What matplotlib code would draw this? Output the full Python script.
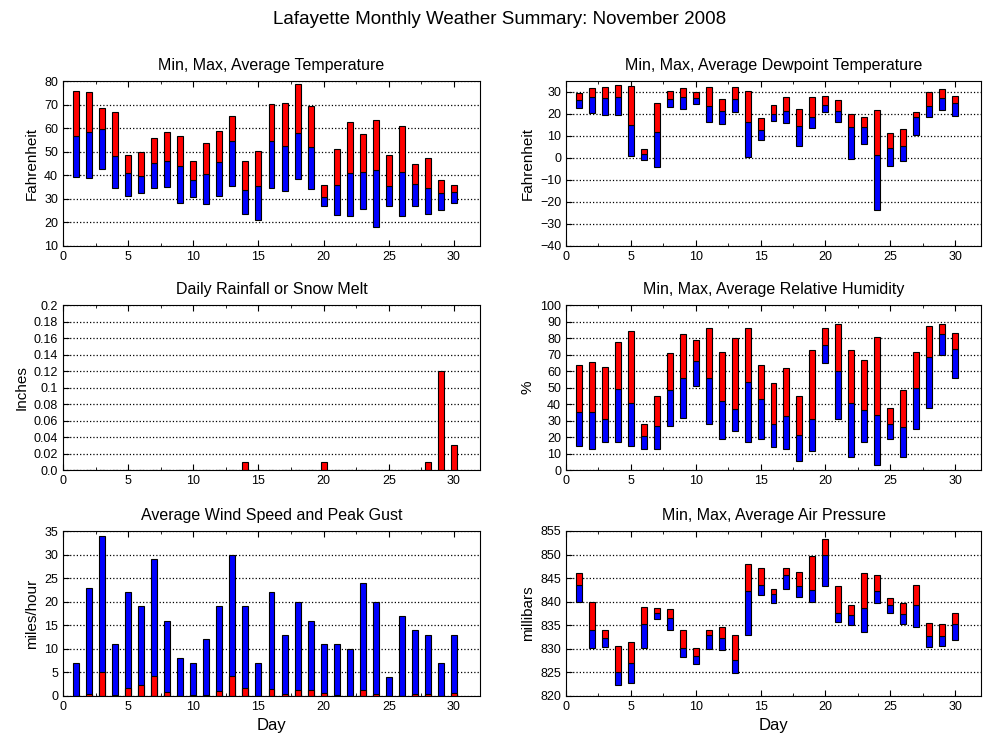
import matplotlib
matplotlib.use("Agg")
import matplotlib.pyplot as plt
import numpy as np
from matplotlib.ticker import MultipleLocator

plt.rcParams['font.family'] = ['Liberation Sans', 'DejaVu Sans']

days = np.arange(1, 31)

# temperature (F)
temp_max = [75.8, 75.3, 68.5, 67.0, 48.7, 50.0, 56.0, 58.5, 56.7, 46.2,
            53.8, 58.9, 65.3, 46.2, 50.4, 70.4, 70.8, 78.9, 69.5, 36.0,
            51.3, 62.7, 57.6, 63.6, 48.7, 61.0, 44.9, 47.5, 38.1, 36.0]
temp_avg = [56.7, 58.5, 59.8, 48.3, 41.0, 39.7, 45.2, 46.2, 44.1, 38.1,
            40.5, 45.8, 54.7, 33.9, 35.6, 54.7, 52.6, 58.1, 52.1, 30.9,
            36.0, 41.1, 41.5, 42.4, 35.6, 41.5, 36.4, 34.7, 32.6, 33.0]
temp_min = [39.4, 39.0, 42.8, 34.5, 31.3, 32.6, 34.7, 35.2, 28.4, 30.9,
            28.0, 31.3, 35.4, 23.7, 21.2, 34.7, 33.5, 38.6, 34.3, 27.1,
            23.3, 22.9, 25.8, 18.2, 27.1, 22.9, 27.1, 23.7, 25.4, 28.4]

# dewpoint (F)
dew_max = [29.5, 31.8, 32.3, 33.2, 32.7, 4.1, 25.0, 30.5, 31.8, 30.0,
           32.3, 26.8, 32.3, 30.5, 18.2, 24.1, 27.7, 22.3, 27.7, 28.2,
           26.4, 20.0, 18.6, 21.8, 11.4, 13.2, 20.9, 30.0, 31.4, 28.2]
dew_avg = [26.4, 27.7, 27.3, 27.7, 15.0, 1.8, 11.8, 26.8, 27.7, 27.3,
           23.6, 21.4, 26.8, 16.4, 12.7, 20.0, 21.4, 14.5, 18.6, 24.1,
           21.4, 14.1, 14.1, 1.4, 4.5, 5.5, 18.6, 23.6, 27.3, 25.0]
dew_min = [22.7, 20.5, 19.5, 19.5, 0.9, -0.9, -4.1, 23.2, 22.3, 24.5,
           16.4, 15.5, 20.9, 0.5, 8.2, 16.8, 15.9, 5.5, 13.6, 20.9,
           16.4, -0.5, 6.4, -23.6, -3.6, -1.4, 10.5, 18.6, 21.8, 19.1]

# rainfall (inches)
rain = [0, 0, 0, 0, 0, 0, 0, 0, 0, 0, 0, 0, 0, 0.01, 0, 0, 0, 0, 0, 0.01,
        0, 0, 0, 0, 0, 0, 0, 0.01, 0.12, 0.03]

# relative humidity (%)
rh_max = [63.9, 65.7, 62.7, 77.3, 84.0, 28.0, 45.0, 71.2, 82.2, 79.1,
          85.8, 71.8, 80.3, 85.8, 63.9, 52.9, 62.0, 45.0, 73.0, 85.8,
          88.2, 73.0, 66.9, 80.9, 37.7, 48.7, 71.8, 87.0, 88.8, 82.8]
rh_avg = [35.3, 35.3, 31.0, 49.3, 40.8, 20.7, 26.8, 48.7, 56.0, 66.3,
          56.0, 42.0, 37.1, 53.5, 43.2, 28.0, 32.9, 21.3, 31.0, 76.0,
          60.2, 40.8, 36.5, 33.5, 28.0, 26.2, 49.9, 68.2, 82.2, 73.6]
rh_min = [14.6, 12.8, 17.0, 17.0, 14.6, 12.8, 12.8, 26.8, 31.6, 51.1,
          28.0, 18.9, 23.7, 17.0, 18.9, 14.0, 12.8, 5.5, 11.6, 65.1,
          31.0, 7.9, 17.0, 3.0, 18.9, 7.9, 24.9, 37.7, 70.0, 56.0]

# wind (mph)
wind_gust = [7, 23, 34, 11, 22, 19, 29, 16, 8, 7, 12, 19, 30, 19, 7,
             22, 13, 20, 16, 11, 11, 10, 24, 20, 4, 17, 14, 13, 7, 13]
wind_avg = [0.1, 0.5, 5.0, 0.3, 1.8, 2.4, 4.2, 0.8, 0.1, 0.2, 0.3, 1.0, 4.2, 1.6, 0.1,
            1.4, 0.5, 1.2, 1.2, 0.7, 0.3, 0.1, 1.2, 0.5, 0.0, 0.1, 0.5, 0.5, 0.1, 0.7]

# pressure (mb)
p_max = [846.0, 839.9, 834.1, 830.7, 831.4, 838.8, 838.6, 838.4, 834.1, 830.1,
         834.1, 834.6, 832.9, 847.9, 847.1, 842.8, 847.1, 846.4, 849.8, 853.2,
         843.3, 839.2, 846.0, 845.6, 840.7, 839.7, 843.5, 835.4, 835.2, 837.7]
p_avg = [843.5, 833.9, 832.2, 825.0, 826.9, 835.2, 837.5, 836.5, 830.1, 828.4,
         832.9, 832.2, 827.6, 842.2, 843.5, 841.6, 845.6, 843.3, 842.4, 850.0,
         837.7, 837.1, 838.6, 842.2, 839.4, 837.3, 839.4, 832.7, 832.7, 835.2]
p_min = [840.0, 830.1, 830.3, 822.3, 822.7, 830.1, 836.3, 834.1, 828.2, 826.7,
         829.9, 829.7, 824.8, 832.9, 841.4, 839.7, 842.8, 841.1, 839.9, 843.3,
         835.6, 835.0, 833.5, 839.7, 837.7, 835.2, 834.6, 830.3, 830.7, 831.8]

RED = '#ff0000'
BLUE = '#0000ff'
W = 0.46

fig = plt.figure(figsize=(10, 7.5), dpi=100)
fig.suptitle('Lafayette Monthly Weather Summary: November 2008', fontsize=13.5, y=0.985)

left_x, right_x = 0.063, 0.566
rows = [0.672, 0.3733, 0.072]
wl, wr, h = 0.417, 0.415, 0.22


def setup(ax, title, ylabel, ylim, ystep, xlabel=False):
    ax.set_xlim(0, 32)
    ax.set_ylim(*ylim)
    ax.xaxis.set_major_locator(MultipleLocator(5))
    ax.xaxis.set_minor_locator(MultipleLocator(2.5))
    ax.yaxis.set_major_locator(MultipleLocator(ystep))
    ax.tick_params(direction='in', top=True, right=False, labelsize=9, length=4)
    ax.tick_params(which='minor', direction='in', top=True, length=2)
    ax.yaxis.grid(True, linestyle=':', color='black', linewidth=0.9)
    ax.set_axisbelow(True)
    ax.set_title(title, fontsize=11.5, pad=8)
    ax.set_ylabel(ylabel, fontsize=11)
    if xlabel:
        ax.set_xlabel('Day', fontsize=12)


def minmax(ax, lo, mid, hi):
    lo, mid, hi = np.array(lo), np.array(mid), np.array(hi)
    ax.bar(days, mid - lo, bottom=lo, width=W, color=BLUE, edgecolor='black', linewidth=0.8)
    ax.bar(days, hi - mid, bottom=mid, width=W, color=RED, edgecolor='black', linewidth=0.8)


ax1 = fig.add_axes([left_x, rows[0], wl, h])
minmax(ax1, temp_min, temp_avg, temp_max)
setup(ax1, 'Min, Max, Average Temperature', 'Fahrenheit', (10, 80), 10)

ax2 = fig.add_axes([right_x, rows[0], wr, h])
minmax(ax2, dew_min, dew_avg, dew_max)
setup(ax2, 'Min, Max, Average Dewpoint Temperature', 'Fahrenheit', (-40, 35), 10)

ax3 = fig.add_axes([left_x, rows[1], wl, h])
ax3.bar(days, rain, width=W, color=RED, edgecolor='black', linewidth=0.8)
setup(ax3, 'Daily Rainfall or Snow Melt', 'Inches', (0, 0.2), 0.02)
rain_ticks = np.arange(0, 0.201, 0.02)
ax3.set_yticks(rain_ticks)
ax3.set_yticklabels(['0.0'] + ['%g' % round(v, 2) for v in rain_ticks[1:]])

ax4 = fig.add_axes([right_x, rows[1], wr, h])
minmax(ax4, rh_min, rh_avg, rh_max)
setup(ax4, 'Min, Max, Average Relative Humidity', '%', (0, 100), 10)

ax5 = fig.add_axes([left_x, rows[2], wl, h])
ax5.bar(days, wind_gust, width=W, color=BLUE, edgecolor='black', linewidth=0.8)
ax5.bar(days, wind_avg, width=W, color=RED, edgecolor='black', linewidth=0.8)
setup(ax5, 'Average Wind Speed and Peak Gust', 'miles/hour', (0, 35), 5, xlabel=True)

ax6 = fig.add_axes([right_x, rows[2], wr, h])
minmax(ax6, p_min, p_avg, p_max)
setup(ax6, 'Min, Max, Average Air Pressure', 'millibars', (820, 855), 5, xlabel=True)

fig.savefig('out.png', dpi=100)
